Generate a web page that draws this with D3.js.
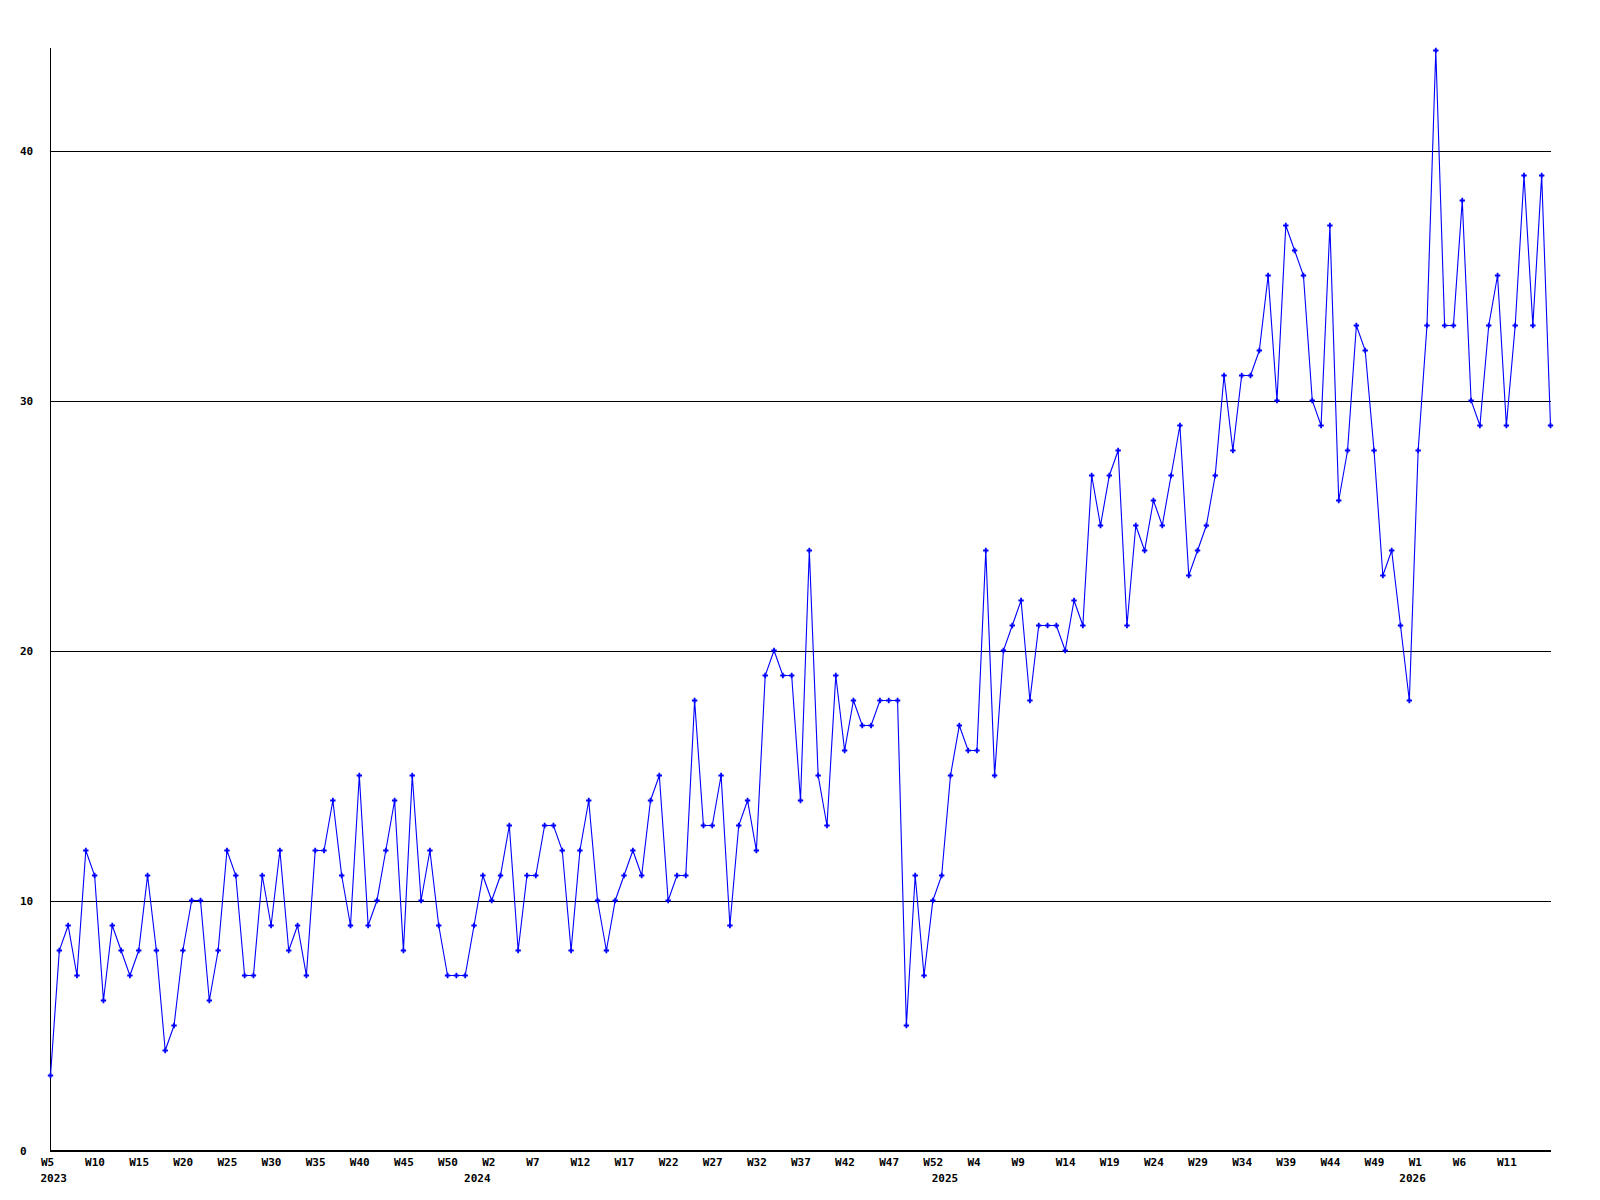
<!DOCTYPE html>
<html>
<head>
<meta charset="utf-8">
<script src="https://cdn.jsdelivr.net/npm/d3@7"></script>
<style>
  html, body { margin: 0; padding: 0; background: #ffffff; }
  svg { display: block; }
  text { font-family: "DejaVu Sans Mono", "Liberation Mono", monospace; font-weight: bold; font-size: 11px; fill: #000; }
</style>
</head>
<body>
<svg id="chart" width="1600" height="1200"></svg>
<script>
// ---- data (weekly counts) ----
const years = ["2023", "2024", "2025", "2026"];
const firstWeekOfYear = [5, 0, 0, 0];
const values2023 = [3,8,9,7,12,11,6,9,8,7,8,11,8,4,5,8,10,10,6,8,12,11,
  7,7,11,9,12,8,9,7,12,12,14,11,9,15,9,10,12,14,8,15,10,12,
  9,7,7,7];
const values2024 = [9,11,10,11,13,8,11,11,13,13,12,8,12,14,10,8,10,
  11,12,11,14,15,10,11,11,18,13,13,15,9,13,14,12,19,20,19,19,14,24,
  15,13,19,16,18,17,17,18,18,18,5,11,7,10];
const values2025 = [11,15,17,16,16,24,15,
  20,21,22,18,21,21,21,20,22,21,27,25,27,28,21,25,24,26,25,27,29,23,
  24,25,27,31,28,31,31,32,35,30,37,36,35,30,29,37,26,28,33,32,28,
  23,24,21];
const values2026 = [18,28,33,44,33,33,38,30,29,33,35,29,33,39,33,39,29];
const yTicks = [0, 10, 20, 30, 40];
const xTickLabels = ["W5","W10","W15","W20","W25","W30","W35","W40","W45","W50",
  "W2","W7","W12","W17","W22","W27","W32","W37","W42","W47","W52",
  "W4","W9","W14","W19","W24","W29","W34","W39","W44","W49",
  "W1","W6","W11"];

// ---- build table ----
const series = [values2023, values2024, values2025, values2026];
const data = [];
series.forEach((vals, yi) => {
  vals.forEach((v, k) => {
    data.push({ key: years[yi] + "-W" + (firstWeekOfYear[yi] + k), year: years[yi], first: k === 0, value: v });
  });
});
const keys = data.map(d => d.key);

// ---- layout ----
const svg = d3.select("#chart");
const plotLeft = 50, plotRight = 1551, plotTop = 48, plotBottom = 1150;

const x = d3.scalePoint().domain(keys).range([plotLeft + 0.5, plotRight - 0.5]);
const y = d3.scaleLinear().domain([0, 44]).range([plotBottom, 50]);

// gridlines + y labels
const yAxis = d3.axisLeft(y).tickValues(yTicks).tickSize(-(plotRight - plotLeft)).tickFormat(d3.format("d"));
const gy = svg.append("g").attr("transform", `translate(${plotLeft},0.5)`).call(yAxis);
gy.select(".domain").remove();
gy.selectAll(".tick line").attr("stroke", "#000").attr("shape-rendering", "crispEdges");
gy.selectAll(".tick text")
  .attr("x", 20 - plotLeft).attr("text-anchor", "start")
  .attr("font-family", null).attr("font-size", null);

// axis lines
svg.append("line").attr("x1", plotLeft + 0.5).attr("x2", plotLeft + 0.5).attr("y1", plotTop).attr("y2", plotBottom + 0.5)
  .attr("stroke", "#000").attr("shape-rendering", "crispEdges");
svg.append("line").attr("x1", plotLeft).attr("x2", plotRight).attr("y1", plotBottom + 0.5).attr("y2", plotBottom + 0.5)
  .attr("stroke", "#000").attr("shape-rendering", "crispEdges");

// x axis labels
const tickKeys = keys.filter((k, i) => i % 5 === 0);
const xAxis = d3.axisBottom(x).tickValues(tickKeys).tickSize(0)
  .tickFormat((k) => xTickLabels[tickKeys.indexOf(k)]);
const gx = svg.append("g").attr("transform", `translate(0,${plotBottom})`).call(xAxis);
gx.select(".domain").remove();
gx.selectAll(".tick text")
  .attr("x", -10).attr("y", 16).attr("dy", 0).attr("text-anchor", "start")
  .attr("font-family", null).attr("font-size", null);

// year labels
svg.append("g").selectAll("text")
  .data(data.filter(d => d.first))
  .join("text")
  .attr("x", d => x(d.key) - 10)
  .attr("y", 1182)
  .attr("text-anchor", "start")
  .text(d => d.year);

// line
const line = d3.line().x(d => x(d.key)).y(d => y(d.value) + 0.5);
svg.append("path").datum(data)
  .attr("d", line)
  .attr("fill", "none")
  .attr("stroke", "#0000ff")
  .attr("stroke-width", 1.1);

// markers
svg.append("g").selectAll("path")
  .data(data)
  .join("path")
  .attr("transform", d => `translate(${x(d.key)},${y(d.value) + 0.5})`)
  .attr("d", d3.symbol(d3.symbolCross, 16))
  .attr("fill", "#0000ff");
</script>
</body>
</html>
